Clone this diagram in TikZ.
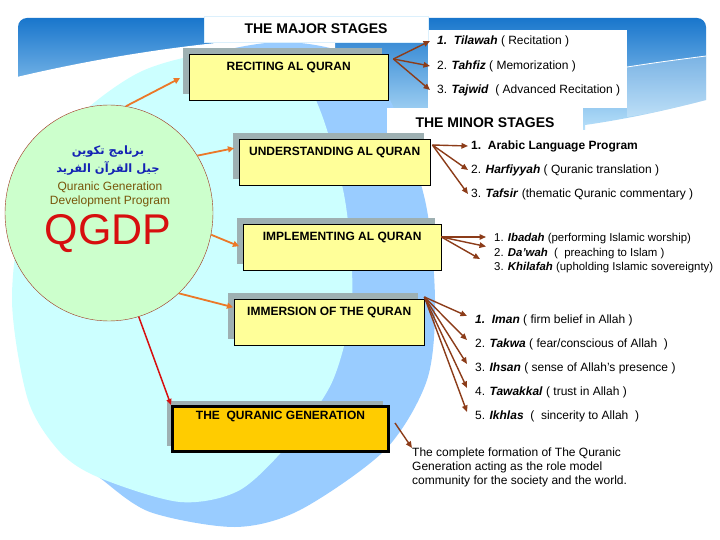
\documentclass[tikz,border=0pt]{standalone}
\usepackage{fontspec}
\setmainfont{Liberation Sans}
\newfontfamily\arabicfont[Script=Arabic]{DejaVu Sans}
\TeXXeTstate=1
\usetikzlibrary{arrows.meta,positioning,shapes.geometric,shadows}
\definecolor{bandtop}{RGB}{25,118,204}
\definecolor{bandbot}{RGB}{185,225,250}
\definecolor{crescent}{RGB}{153,204,255}
\definecolor{paleaqua}{RGB}{204,255,255}
\definecolor{palegreen}{RGB}{204,255,204}
\definecolor{boxyellow}{RGB}{255,255,153}
\definecolor{goldbox}{RGB}{255,204,0}
\definecolor{shadowgray}{RGB}{158,176,178}
\definecolor{fanbrown}{RGB}{140,60,25}
\definecolor{feedorange}{RGB}{235,120,40}
\definecolor{qred}{RGB}{215,15,15}
\definecolor{circbrown}{RGB}{160,50,30}
\definecolor{arabblue}{RGB}{20,35,180}
\definecolor{olivetext}{RGB}{120,85,10}
\newcommand{\kw}[1]{\textbf{\textit{#1}}}
\tikzset{
  stage/.style={draw=black,fill=boxyellow,anchor=north west,inner sep=0pt,
    minimum height=46pt,text height=16pt,text depth=30pt,
    font=\bfseries\fontsize{12}{14}\selectfont,
    drop shadow={shadow xshift=-6pt,shadow yshift=6pt,fill=shadowgray,opacity=1}},
  headbox/.style={fill=white,inner sep=0pt,font=\bfseries\fontsize{14}{16}\selectfont},
  item/.style={anchor=west,inner sep=0pt,font=\fontsize{12}{14}\selectfont},
  fan/.style={draw=fanbrown,line width=1.4pt,-{Triangle[length=6.5pt,width=5.5pt]}},
  feed/.style={draw=feedorange,line width=1.8pt,-{Triangle[length=6pt,width=6pt]}},
}
\begin{document}
\begin{tikzpicture}[x=1pt,y=-1pt]
  \useasboundingbox (0,0) rectangle (720,540);
  \fill[white] (0,0) rectangle (720,540);
  % background: top band, white swoosh and the two ovals
  \shade[top color=bandtop,bottom color=bandbot] (18,130) [rounded corners=9pt]-- (18,18) -- (706,18)
    [sharp corners]-- (706,100) .. controls (660,112) and (620,120) .. (585,125) -- (585,130) -- cycle;
  \fill[white] (17,77) .. controls (110,55) and (220,38) .. (335,35) -- (335,131) -- (17,131) -- cycle;
  \fill[white,opacity=.25] (627,67) .. controls (660,62) .. (706,56) -- (706,100)
    .. controls (660,112) and (640,115) .. (627,117) -- cycle;
  \draw[white,line width=.8pt] (627,67) .. controls (660,62) .. (706,56);
  \fill[crescent] plot[smooth cycle] coordinates {(25,300) (38,400) (68,452) (100,478) (150,512)
    (235,527) (300,510) (385,450) (427,380) (435,300) (425,200) (390,100) (350,55) (280,42)
    (200,58) (120,105) (45,200)};
  \fill[paleaqua] plot[smooth cycle] coordinates {(12,300) (28,400) (60,452) (100,478) (180,502)
    (240,490) (292,440) (333,380) (352,300) (345,200) (320,110) (290,62) (220,52) (140,72)
    (70,125) (26,200)};
  \fill[white] (428,30) rectangle (627,108);

  % headings
  \node[headbox,draw=bandbot!50!white,minimum width=224pt,minimum height=26pt] (major) at (316,29) {THE MAJOR STAGES};
  \node[headbox,minimum width=196pt,minimum height=29pt] (minor) at (485,122.5) {THE MINOR STAGES};

  % program circle
  \node[ellipse,draw=circbrown,fill=palegreen,minimum width=208pt,minimum height=216pt,inner sep=0pt] (qgdp) at (109,213) {};
  \node[align=center,text=arabblue,font=\arabicfont\bfseries\fontsize{11.5}{18}\selectfont] (arabname) at (108,161)
    {\beginR برنامج تكوين\endR\\\beginR جيل القرآن الفريد\endR};
  \node[align=center,text=olivetext,font=\fontsize{12}{14}\selectfont] (engname) at (110,194) {Quranic Generation\\Development Program};
  \node[text=qred,font=\fontsize{43}{43}\selectfont] (acronym) at (108,234) {QGDP};

  % stages
  \node[stage,minimum width=199pt] (rec) at (189,54) {RECITING AL QURAN};
  \node[stage,minimum width=191pt] (und) at (239,139) {UNDERSTANDING AL QURAN};
  \node[stage,minimum width=198pt] (imp) at (243,224) {IMPLEMENTING AL QURAN};
  \node[stage,minimum width=190pt] (imm) at (234,299) {IMMERSION OF THE QURAN};
  \node[stage,fill=goldbox,line width=3pt,minimum width=216pt,minimum height=45pt,text height=13pt,text depth=32pt] (gen) at (171,405) {THE\ \ QURANIC GENERATION};

  % major stage items
  \node[item] (tilawah) at (437,41) {\kw{1.\ \ Tilawah} ( Recitation )};
  \node[item,below=25pt of tilawah.west,anchor=west] (tahfiz) {2. \kw{Tahfiz} ( Memorization )};
  \node[item,below=24pt of tahfiz.west,anchor=west] (tajwid) {3. \kw{Tajwid}\ \ ( Advanced Recitation )};

  % minor stage items
  \node[item] (arabic) at (471,146) {\textbf{1.\ \ Arabic Language Program}};
  \node[item,below=24pt of arabic.west,anchor=west] (harfiyyah) {2. \kw{Harfiyyah} ( Quranic translation )};
  \node[item,below=24pt of harfiyyah.west,anchor=west] (tafsir) {3. \kw{Tafsir} (thematic Quranic commentary )};

  \node[item,font=\fontsize{11.4}{14}\selectfont] (ibadah) at (494,239) {1. \kw{Ibadah} (performing Islamic worship)};
  \node[item,font=\fontsize{11.4}{14}\selectfont,below=14.5pt of ibadah.west,anchor=west] (dawah) {2. \kw{Da'wah}\ \ (\ \ preaching to Islam )};
  \node[item,font=\fontsize{11.4}{14}\selectfont,below=14.5pt of dawah.west,anchor=west] (khilafah) {3. \kw{Khilafah} (upholding Islamic sovereignty)};

  \node[item] (iman) at (475,320) {\kw{1.\ \ Iman} ( firm belief in Allah )};
  \node[item,below=24pt of iman.west,anchor=west] (takwa) {2. \kw{Takwa} ( fear/conscious of Allah\ \ )};
  \node[item,below=24pt of takwa.west,anchor=west] (ihsan) {3. \kw{Ihsan} ( sense of Allah's presence )};
  \node[item,below=24pt of ihsan.west,anchor=west] (tawakkal) {4. \kw{Tawakkal} ( trust in Allah )};
  \node[item,below=24pt of tawakkal.west,anchor=west] (ikhlas) {5. \kw{Ikhlas}\ \ (\ \ sincerity to Allah\ \ )};

  \node[anchor=north west,inner sep=0pt,align=left,font=\fontsize{12}{14}\selectfont] (desc) at (412,448)
    {The complete formation of The Quranic\\Generation acting as the role model\\community for the society and the world.};

  % fan-out points
  \coordinate (recfan) at ([xshift=5pt,yshift=-5pt]rec.north east);
  \coordinate (undfan) at ([xshift=2pt,yshift=-6pt]und.north east);
  \coordinate (impfan) at ([yshift=-13pt]imp.north east);
  \coordinate (immfan) at ([yshift=2pt]imm.north east);

  % circle to stages
  \draw[feed] (qgdp.81) -- ([xshift=-9pt,yshift=-1pt]rec.west);
  \draw[feed] (qgdp.33) -- ([xshift=-5pt,yshift=14pt]und.west);
  \draw[feed] (qgdp.-12) -- ([xshift=-4pt,yshift=1pt]imp.west);
  \draw[feed] (qgdp.-49) -- ([xshift=-1pt,yshift=15pt]imm.west);
  \draw[qred,line width=1.5pt,-{Triangle[length=6pt,width=5pt]}] (qgdp.-74) -- (gen.north west);

  % stages to items
  \foreach \t in {tilawah,tahfiz,tajwid}
    \draw[fan] (recfan) -- ([xshift=-7pt]\t.west);
  \foreach \t in {arabic,harfiyyah,tafsir}
    \draw[fan] (undfan) -- ([xshift=-3pt]\t.west);
  \draw[fan] (impfan) -- ([xshift=-8pt,yshift=2pt]ibadah.west);
  \draw[fan] (impfan) -- ([xshift=-8pt,yshift=7pt]dawah.west);
  \draw[fan] (impfan) -- ([xshift=-14pt,yshift=9pt]khilafah.west);
  \foreach \t in {iman,takwa,ihsan,tawakkal,ikhlas}
    \draw[fan] (immfan) -- ([xshift=-8pt,yshift=4pt]\t.west);
  \draw[fan] ([xshift=5pt,yshift=6pt]gen.east) -- (desc.north west);
\end{tikzpicture}
\end{document}
